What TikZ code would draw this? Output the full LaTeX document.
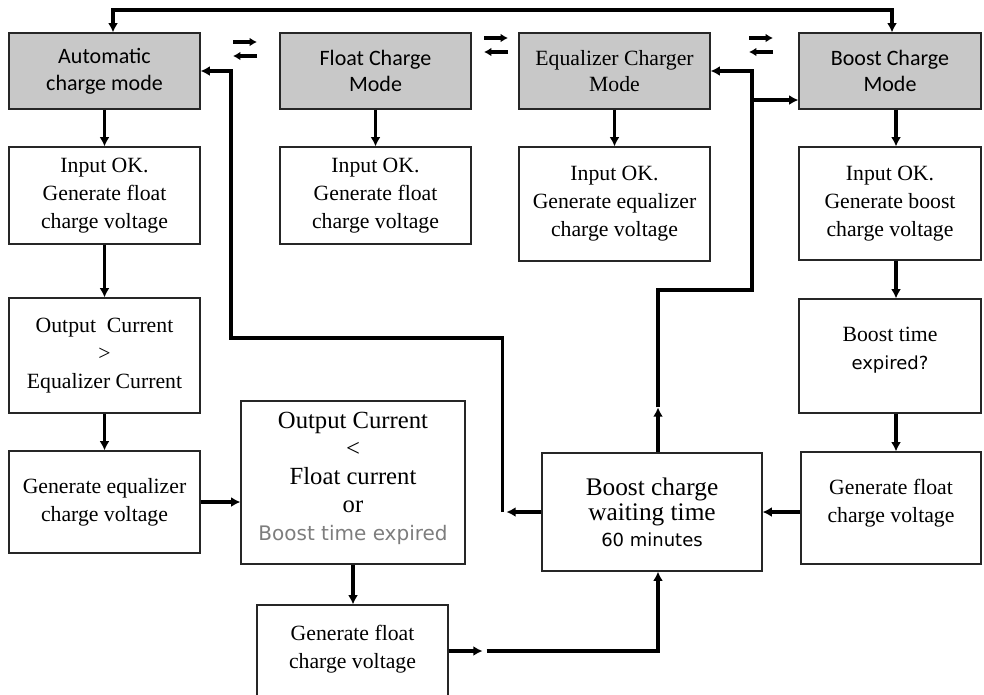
\documentclass[tikz,border=0pt]{standalone}
\usepackage{fontspec}
\setmainfont{Liberation Serif}
\newfontfamily\calibri{Carlito}
\newfontfamily\dejavu{DejaVu Sans}
\usetikzlibrary{arrows.meta}
\definecolor{modegray}{RGB}{200,200,200}
\definecolor{hintgray}{RGB}{125,125,125}
\tikzset{
    >={Latex[length=7pt,width=7.5pt]},
    flow/.style={line width=2.6pt,->},
    swap/.style={line width=2.5pt,-{Latex[length=5.5pt,width=6.5pt]}},
    box/.style 2 args={draw=black!85, line width=0.9pt, inner sep=0pt, align=center,
        minimum width=#1*0.75pt, minimum height=#2*0.75pt,
        font=\fontsize{16.3}{21}\selectfont},
    modebox/.style 2 args={box={#1}{#2}, fill=modegray,
        font=\calibri\fontsize{16.5}{20}\selectfont},
}
\begin{document}
\begin{tikzpicture}[x=0.75pt,y=-0.75pt]
    \useasboundingbox (0,0) rectangle (984,694);
    % mode boxes
    \node[modebox={191}{76}] (auto) at (104.5,71) {Automatic\\charge mode};
    \node[modebox={191}{76}] (floatm) at (375.5,71) {Float Charge\\Mode};
    \node[modebox={191}{76}, font=\fontsize{16.3}{20}\selectfont] (eqm) at (614.5,71) {Equalizer Charger\\Mode};
    \node[modebox={182}{76}] (boostm) at (890,71) {Boost Charge\\Mode};
    % steps
    \node[box={191}{97}] (autoin) at (104.5,195.5) {Input OK.\\Generate float\\charge voltage};
    \node[box={191}{97}] (floatin) at (375.5,195.5) {Input OK.\\Generate float\\charge voltage};
    \node[box={191}{114}] (eqin) at (614.5,204) {Input OK.\\Generate equalizer\\charge voltage};
    \node[box={182}{113}] (boostin) at (890,203.5) {Input OK.\\Generate boost\\charge voltage};
    \node[box={191}{115}] (outeq) at (104.5,355.5) {Output~~Current\\>\\Equalizer Current};
    \node[box={191}{102}] (geneq) at (104.5,502) {Generate equalizer\\charge voltage};
    \node[box={224}{163}, font=\fontsize{18.5}{21}\selectfont] (outfl) at (353,482.5)
        {Output Current\\<\\Float current\\or\\{\dejavu\fontsize{15}{21}\selectfont\color{hintgray}Boost time expired}\\[-12pt]\mbox{}};
    \node[box={191}{92}] (genfl) at (352.5,651) {Generate float\\charge voltage\\[-15pt]\mbox{}};
    \node[box={220}{118}, font=\fontsize{19}{19}\selectfont] (wait) at (652,512)
        {Boost charge\\waiting time\\{\dejavu\fontsize{13.5}{19}\selectfont 60 minutes}};
    \node[box={182}{114}] (btexp) at (890,356) {Boost time\\{\dejavu\fontsize{13.5}{21}\selectfont expired?}\\[-10pt]\mbox{}};
    \node[box={180}{112}] (genflr) at (891,508) {Generate float\\charge voltage\\[-10pt]\mbox{}};
    % helper points
    \coordinate (tl) at (113,0);
    \coordinate (tr) at (892,10);
    \coordinate (rc) at (896,0);
    \coordinate (wc) at (658,0);
    \coordinate (lb) at (231,338);
    \coordinate (rb) at (752,290);
    \coordinate (br) at (752,100);
    % connectors
    \draw[flow,<->] (auto.north -| tl) |- (tr) -- (boostm.north -| tr);
    \foreach \a/\b in {auto/autoin, autoin/outeq, outeq/geneq, floatm/floatin, eqm/eqin, outfl/genfl}
        \draw[flow] (\a.south) -- (\a.south |- \b.north);
    \foreach \a/\b in {boostm/boostin, boostin/btexp, btexp/genflr}
        \draw[flow] (\a.south -| rc) -- (\b.north -| rc);
    \draw[flow] (geneq.east) -- (geneq.east -| outfl.west);
    \draw[flow] (wait.east -| genflr.west) -- (wait.east);
    \draw[flow] (wait.west) -- ++(-35,0) coordinate (j1);
    \draw[flow] ([xshift=-3pt]j1) |- (lb) |- (auto.east);
    \draw[flow] (wait.north -| wc) -- ++(0,-45) coordinate (m1);
    \draw[flow] (m1) |- (rb) |- (eqm.east);
    \draw[flow] (br) -- (br -| boostm.west);
    \draw[flow] (genfl.east) -- ++(34,0) coordinate (m2);
    \draw[flow] ([xshift=3pt]m2) -| (wait.south -| wc);
    % switch marks between the modes
    \foreach \x/\y in {245/49, 496/45, 761/45} {
        \draw[swap] (\x-12,\y-7) -- (\x+12,\y-7);
        \draw[swap] (\x+12,\y+7) -- (\x-12,\y+7);
    }
\end{tikzpicture}
\end{document}
